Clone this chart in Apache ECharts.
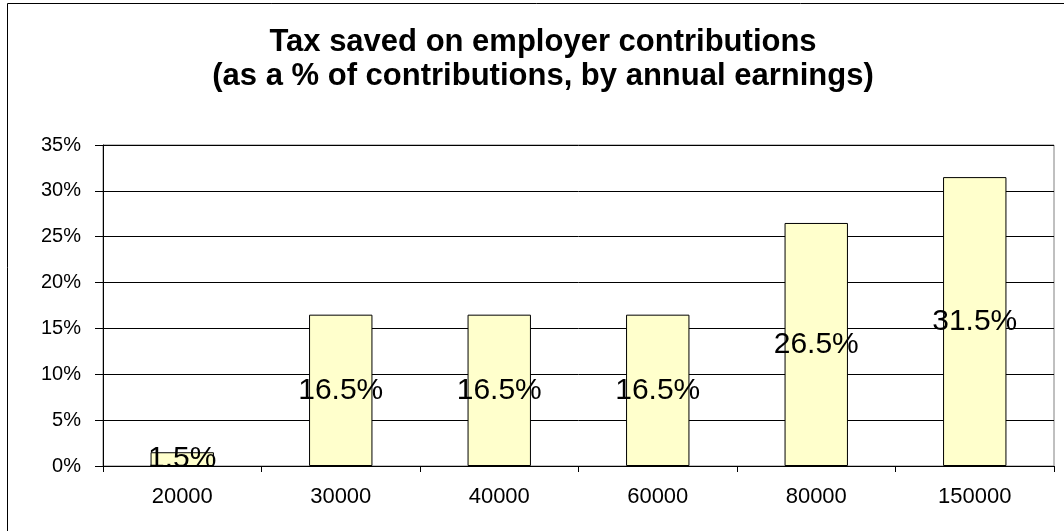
<!DOCTYPE html>
<html>
<head>
<meta charset="utf-8">
<script src="https://cdn.jsdelivr.net/npm/echarts@6/dist/echarts.min.js"></script>
<style>
  html, body { margin: 0; padding: 0; background: #fff; }
  #chart { width: 1064px; height: 531px; }
</style>
</head>
<body>
<div id="chart"></div>
<script>
const earnings = ['20000', '30000', '40000', '60000', '80000', '150000'];
const taxSaved = [1.5, 16.5, 16.5, 16.5, 26.5, 31.5];
const titleLines = ['Tax saved on employer contributions', '(as a % of contributions, by annual earnings)'];

const font = '"Liberation Sans", Arial, sans-serif';
const myChart = echarts.init(document.getElementById('chart'));

myChart.setOption({
    backgroundColor: '#fff',
    animation: false,
    title: {
        text: titleLines.join('\n'),
        left: 538,
        textAlign: 'center',
        top: 20,
        textStyle: {
            fontFamily: font,
            fontWeight: 'bold',
            fontSize: 31,
            lineHeight: 34,
            color: '#000'
        }
    },
    graphic: [{
        type: 'rect',
        shape: { x: 7.5, y: 3.5, width: 1080, height: 560 },
        style: { fill: 'none', stroke: '#000', lineWidth: 1 },
        silent: true,
        z: -1
    }],
    grid: {
        left: 103,
        right: 10,
        top: 145,
        bottom: 65,
        show: true,
        borderColor: '#808080',
        borderWidth: 1
    },
    xAxis: {
        type: 'category',
        data: earnings,
        axisLine: { lineStyle: { color: '#000', width: 1 } },
        axisTick: { show: true, length: 6, lineStyle: { color: '#000' } },
        axisLabel: { color: '#000', fontFamily: font, fontSize: 22, margin: 20 }
    },
    yAxis: {
        type: 'value',
        min: 0,
        max: 35,
        interval: 5,
        axisLine: { show: true, lineStyle: { color: '#000', width: 1 } },
        axisTick: { show: true, length: 8, lineStyle: { color: '#000' } },
        axisLabel: { color: '#000', fontFamily: font, fontSize: 20, margin: 22, formatter: '{value}%' },
        splitLine: { lineStyle: { color: '#000', width: 1 } }
    },
    series: [{
        type: 'bar',
        data: taxSaved,
        barWidth: '40%',
        itemStyle: { color: '#FFFFCC', borderColor: '#000', borderWidth: 1 },
        label: {
            show: true,
            position: 'inside',
            formatter: '{c}%',
            color: '#000',
            fontFamily: font,
            fontSize: 30
        }
    }]
});
</script>
</body>
</html>
